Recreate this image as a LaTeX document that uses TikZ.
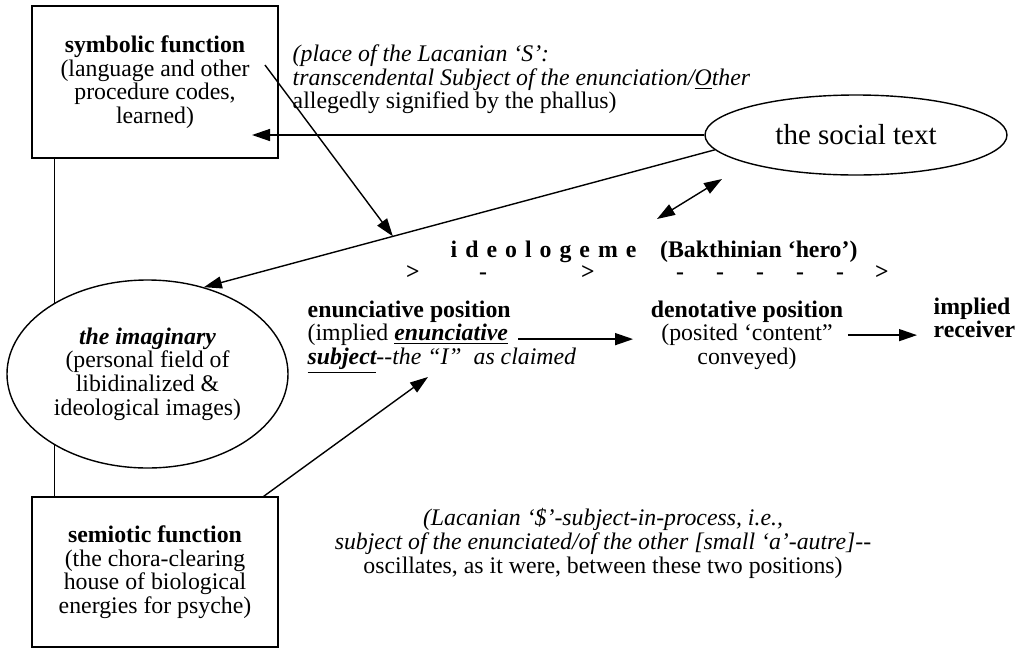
\documentclass[tikz,border=0pt]{standalone}
\usepackage{fontspec}
\setmainfont{Liberation Serif}
\usetikzlibrary{arrows.meta,shapes.geometric}

\begin{document}
\begin{tikzpicture}[
  x=0.5pt, y=-0.5pt,
  line width=0.7pt,
  font=\fontsize{11.9}{11.8}\selectfont,
  box/.style={draw, minimum width=123pt, minimum height=76pt, align=center, inner sep=0pt},
  oval/.style={draw, ellipse, fill=white, inner sep=0pt, align=center},
  txt/.style={inner sep=0pt, align=left},
  arr/.style={-{Triangle[length=9pt,width=6pt]}},
  dbl/.style={{Triangle[length=9pt,width=6pt]}-{Triangle[length=9pt,width=6pt]}}
]
\useasboundingbox (0,0) rectangle (1024,649);

\node[box] (symbolic) at (155,82) {\textbf{symbolic function}\\(language and other\\procedure codes,\\learned)};
\node[box, minimum height=75pt] (semiotic) at (155,572) {\textbf{semiotic function}\\(the chora-clearing\\house of biological\\energies for psyche)};
\draw ([xshift=11.5pt]symbolic.south west) -- ([xshift=11.5pt]semiotic.north west);
\node[oval, minimum width=140.5pt, minimum height=94pt] (imaginary) at (147.5,374) {\textbf{\textit{the imaginary}}\\(personal field of\\libidinalized \&\\ideological images)};
\node[oval, minimum width=151pt, minimum height=40pt, font=\fontsize{14.5}{14}\selectfont] (social) at (856,135) {the social text};

\node[txt, anchor=north west] (lacan) at (292,44) {\textit{(place of the Lacanian `S':}\\\textit{transcendental Subject of the enunciation/\underline{O}ther}\\allegedly signified by the phallus)};

\node[txt, anchor=base west] (ideo) at (450,257) {\bfseries{\spaceskip=4pt i d e o l o g e m e}\quad(Bakthinian `hero')};
\foreach \x/\s in {413/>,483/-,588/>,680/-,720/-,760/-,800/-,840/-,882/>}
  \node[txt, anchor=base] (mark\x) at (\x,279) {\textbf{\s}};

\node[txt, anchor=north west] (enun) at (307,300) {\textbf{enunciative position}\\(implied \textbf{\textit{\underline{enunciative}}}\\\textbf{\textit{\underline{subject}}}\textit{-{}-the ``I''\ \ as claimed}};
\node[txt, anchor=north, align=center] (den) at (747,300) {\textbf{denotative position}\\(posited `content''\\conveyed)};
\node[txt, anchor=north west] (recv) at (933,297) {\textbf{implied}\\\textbf{receiver}};

\node[txt, anchor=north, align=center] (oscill) at (603,508) {\textit{(Lacanian `\$'-subject-in-process, i.e.,}\\\textit{subject of the enunciated/of the other [small `a'-autre]-{}-}\\oscillates, as it were, between these two positions)};

% connectors
\coordinate (symin) at (252,135);
\coordinate (symout) at (265,65);
\coordinate (subj) at (428,377);
\coordinate (dbl-a) at (657,219);
\coordinate (dbl-b) at (722,179);

\draw[arr] (social.west) -- (symin);
\draw[arr] (social.186) -- (imaginary.57) coordinate[pos=0.63] (hit);
\draw[arr] (symout) -- (hit);
\draw[dbl] (dbl-a) -- (dbl-b);
\draw[arr] ([xshift=-7.5pt]semiotic.north east) -- (subj);
\draw[arr] ([shift={(-66pt,-2pt)}]den.west) -- ([shift={(-8.5pt,-2pt)}]den.west);
\draw[arr] ([xshift=2pt]den.east) -- ([xshift=-8pt]den.east -| recv.west);
\end{tikzpicture}
\end{document}
